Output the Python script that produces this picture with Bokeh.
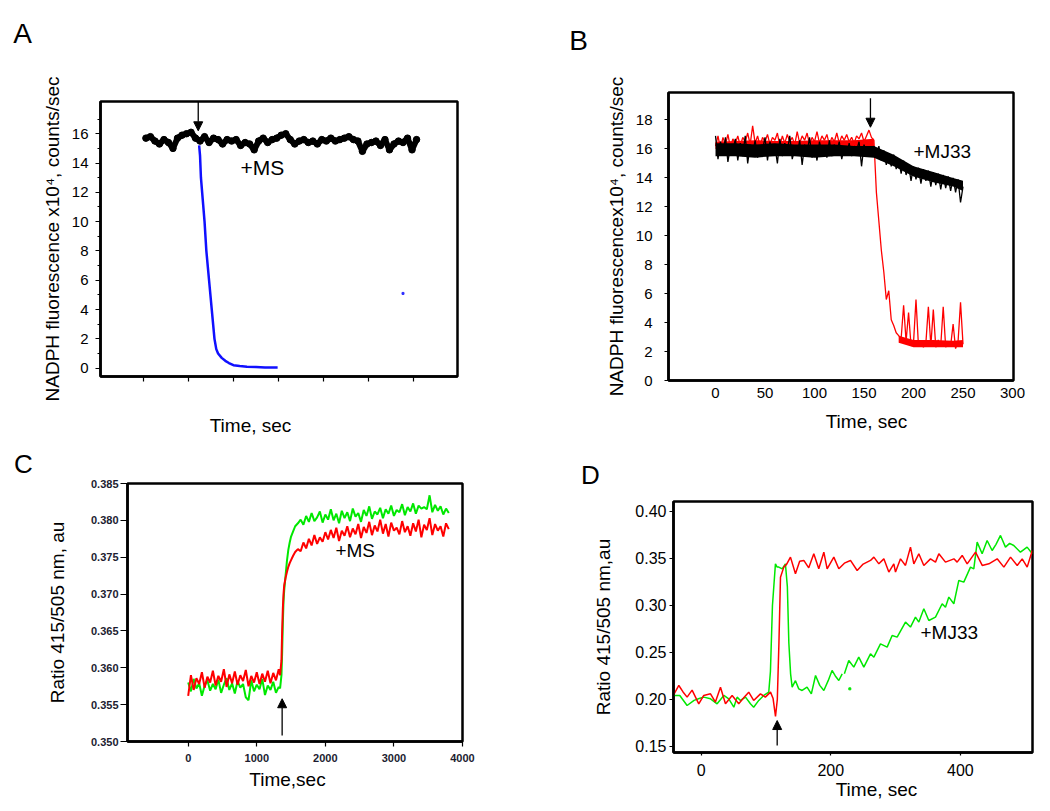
from bokeh.plotting import figure
from bokeh.models import Range1d, FixedTicker, Label, Arrow, NormalHead
from bokeh.embed import file_html
from bokeh.resources import INLINE

FONT = "Liberation Sans"
NaN = float("nan")

# ---------------- Panel A data ----------------
a_black_t = list(range(53, 354, 5))  # sampling grid (s)
a_black_v = [15.7, 15.8, 15.5, 15.3, 15.6, 15.4, 15.0, 15.7, 15.9, 16.0,
             16.1, 15.7, 15.5, 15.8, 15.4, 15.7, 15.6, 15.3, 15.6, 15.5,
             15.6, 15.2, 15.4, 15.3, 14.9, 15.5, 15.7, 15.4, 15.6, 15.7,
             15.9, 16.0, 15.6, 15.3, 15.5, 15.6, 15.4, 15.5, 15.3, 15.6,
             15.5, 15.7, 15.5, 15.6, 15.7, 15.8, 15.6, 15.5, 14.8, 15.3,
             15.4, 15.5, 15.2, 15.6, 14.9, 15.3, 15.5, 15.4, 15.7, 14.9, 15.6]
a_blue_t = [112, 113, 114, 116, 118, 120, 123, 126, 129, 131, 133, 137, 141, 145, 150, 157, 165, 175, 185, 199]
a_blue_v = [15.2, 14.5, 13.0, 11.5, 10.0, 8.0, 6.0, 4.0, 2.0, 1.3, 1.0, 0.7, 0.5, 0.35, 0.2, 0.15, 0.1, 0.08, 0.05, 0.05]
a_dot_t = [338]
a_dot_v = [5.1]
a_yticks = [0, 2, 4, 6, 8, 10, 12, 14, 16]
a_yminor = [1, 3, 5, 7, 9, 11, 13, 15, 17]
a_xticks = [50, 100, 150, 200, 250, 300, 350]
a_arrow = (111, 18.2, 16.2)

# ---------------- Panel B data ----------------
b_t = [i * 2.5 for i in range(101)]  # sampling grid 0..250 s
b_red = [16.2, 16.9, 16.0, 16.8, 16.3, 17.0, 16.1, 16.7, 16.4, 16.9,
         16.2, 16.8, 16.5, 17.1, 16.3, 17.6, 16.4, 16.9, 16.2, 16.8,
         16.5, 17.0, 16.3, 16.8, 16.6, 17.1, 16.2, 16.9, 16.4, 17.0,
         16.5, 16.8, 16.3, 17.2, 16.4, 16.9, 16.6, 17.1, 16.3, 16.8,
         16.5, 17.2, 16.4, 16.9, 16.6, 17.0, 16.3, 16.8, 16.5, 17.1,
         16.4, 16.9, 16.6, 17.0, 16.5, 16.8, 16.4, 16.9, 16.7, 17.1,
         16.5, 16.9, 17.3, 16.8, 16.6,
         13.0, 11.0, 9.0, 7.5, 5.6, 6.2, 4.2, 3.8, 3.3, 3.1,
         2.9, 5.2, 2.7, 4.7, 2.4, 2.6, 5.6, 2.4, 2.7, 2.3,
         2.6, 5.1, 2.4, 4.9, 2.3, 2.8, 2.4, 5.1, 2.3, 2.6,
         2.4, 3.9, 2.2, 2.7, 5.4, 2.5]
b_black = [16.9, 15.3, 16.5, 15.6, 16.8, 15.1, 16.2, 15.8, 16.7, 15.2,
           16.4, 15.5, 16.9, 15.0, 16.3, 15.7, 16.6, 15.4, 16.1, 15.9,
           16.8, 15.2, 16.5, 15.6, 16.2, 15.0, 16.7, 15.5, 16.4, 15.8,
           16.9, 15.3, 16.0, 15.6, 16.6, 14.9, 16.3, 15.7, 16.8, 15.4,
           16.2, 15.2, 16.5, 15.7, 16.0, 15.4, 16.6, 15.5, 16.3, 15.8,
           16.5, 15.3, 16.1, 15.6, 16.4, 15.5, 16.2, 15.9, 16.5, 14.8,
           16.3, 15.7, 16.1, 15.8, 16.2,
           15.4, 16.2, 15.2, 15.9, 14.9, 15.7, 14.8, 15.6, 14.6, 15.3,
           14.3, 15.2, 14.2, 14.9, 13.8, 14.8, 13.9, 14.7, 13.6, 14.6,
           13.8, 14.5, 13.4, 14.4, 13.5, 14.3, 13.2, 14.2, 13.3, 14.1,
           13.1, 14.0, 13.0, 13.9, 12.3, 13.4]
# dense core of the noisy bands
b_core_t = [0, 20, 40, 60, 80, 100, 120, 140, 160, 180, 200, 220, 240, 250]
b_black_core_lo = [15.5, 15.5, 15.4, 15.5, 15.5, 15.4, 15.5, 15.5, 15.4, 14.8, 14.1, 13.7, 13.4, 13.1]
b_black_core_hi = [16.4, 16.4, 16.3, 16.4, 16.3, 16.3, 16.3, 16.2, 16.2, 15.6, 14.8, 14.4, 14.0, 13.8]
b_red_core_t = [0, 20, 40, 60, 80, 100, 120, 140, 160]
b_red_core_lo = [16.0, 16.0, 16.1, 16.0, 16.1, 16.1, 16.1, 16.2, 16.2]
b_red_core_hi = [16.5, 16.55, 16.6, 16.55, 16.55, 16.6, 16.6, 16.6, 16.7]
b_red_tail_t = [185, 200, 220, 240, 250]
b_red_tail_lo = [2.6, 2.3, 2.3, 2.3, 2.3]
b_red_tail_hi = [3.1, 2.8, 2.8, 2.75, 2.8]
b_yticks = [0, 2, 4, 6, 8, 10, 12, 14, 16, 18]
b_xticks = [0, 50, 100, 150, 200, 250, 300]
b_arrow = (156.5, 19.5, 17.5)

# ---------------- Panel C data ----------------
c_t = (list(range(0, 1321, 40))
       + [1340, 1360, 1370, 1380, 1390, 1400, 1420, 1440, 1460, 1480, 1500, 1530, 1560, 1600]
       + list(range(1640, 3801, 40)))
c_green = [0.3580, 0.3568, 0.3585, 0.3572, 0.3579, 0.3562, 0.3576, 0.3583, 0.3569, 0.3578,
           0.3571, 0.3584, 0.3566, 0.3577, 0.3586, 0.3570, 0.3579, 0.3565, 0.3582, 0.3573,
           0.3578, 0.3560, 0.3556, 0.3583, 0.3568, 0.3577, 0.3571, 0.3585, 0.3563, 0.3576,
           0.3570, 0.3581, 0.3566, 0.3574,
           0.3572, 0.3590, 0.3620, 0.3660, 0.3690, 0.3705, 0.3725, 0.3745, 0.3760, 0.3770,
           0.3778, 0.3785, 0.3792, 0.3796,
           0.3801, 0.3794, 0.3806, 0.3798, 0.3810, 0.3799, 0.3804, 0.3812, 0.3797, 0.3808,
           0.3801, 0.3815, 0.3800, 0.3809, 0.3796, 0.3813, 0.3803, 0.3811, 0.3799, 0.3816,
           0.3805, 0.3810, 0.3798, 0.3814, 0.3806, 0.3819, 0.3802, 0.3812, 0.3808, 0.3817,
           0.3803, 0.3815, 0.3809, 0.3820, 0.3806, 0.3814, 0.3811, 0.3822, 0.3807, 0.3818,
           0.3812, 0.3823, 0.3809, 0.3820, 0.3816, 0.3818, 0.3815, 0.3834, 0.3811, 0.3821,
           0.3813, 0.3819, 0.3808, 0.3816, 0.3810]
c_red = [0.3562, 0.3590, 0.3570, 0.3586, 0.3578, 0.3594, 0.3573, 0.3588, 0.3580, 0.3596,
         0.3576, 0.3589, 0.3581, 0.3598, 0.3574, 0.3591, 0.3579, 0.3595, 0.3577, 0.3590,
         0.3582, 0.3597, 0.3575, 0.3589, 0.3580, 0.3594, 0.3578, 0.3592, 0.3581, 0.3596,
         0.3579, 0.3593, 0.3583, 0.3598,
         0.3590, 0.3610, 0.3650, 0.3680, 0.3700, 0.3712, 0.3722, 0.3730, 0.3737, 0.3742,
         0.3746, 0.3752, 0.3757, 0.3761,
         0.3758, 0.3770, 0.3762, 0.3775, 0.3766, 0.3780, 0.3768, 0.3777, 0.3771, 0.3784,
         0.3774, 0.3787, 0.3776, 0.3790, 0.3772, 0.3786, 0.3779, 0.3792, 0.3777, 0.3789,
         0.3781, 0.3795, 0.3776, 0.3791, 0.3783, 0.3798, 0.3780, 0.3793, 0.3785, 0.3801,
         0.3782, 0.3795, 0.3778, 0.3797, 0.3786, 0.3790, 0.3781, 0.3799, 0.3784, 0.3792,
         0.3779, 0.3796, 0.3785, 0.3801, 0.3777, 0.3794, 0.3787, 0.3803, 0.3780, 0.3795,
         0.3786, 0.3792, 0.3778, 0.3796, 0.3788]
c_yticks = [0.350, 0.355, 0.360, 0.365, 0.370, 0.375, 0.380, 0.385]
c_ylabels = ["0.350", "0.355", "0.360", "0.365", "0.370", "0.375", "0.380", "0.385"]
c_xticks = [0, 1000, 2000, 3000, 4000]
c_xlabels = ["0", "1000", "2000", "3000", "4000"]
c_arrow = (1370, 0.3508, 0.3558)

# ---------------- Panel D data ----------------
d_red_t = [-43, -34.5, -28, -21.7, -14, -3.7, 4, 14.4, 22, 29.8, 37.5, 47.8, 58, 66, 73.4, 81,
           91.5, 99, 107, 111, 114.7, 117.5, 120, 122.4, 127.5, 132, 137.8, 145.5, 152, 158.4,
           166, 173.8, 181.5, 189.3, 194.4, 204.7, 212.4, 221, 230.4, 240.7, 250, 261.3, 266.5,
           274.2, 281.9, 289.6, 297.3, 299.9, 307.6, 315.3, 323, 328.2, 335.9, 343.6, 353.9,
           361.6, 366.8, 377, 390, 395, 402.8, 410.5, 423.4, 433.7, 444, 456.8, 467.1, 477.4,
           487.7, 495.4, 503.1, 511]
d_red_v = [0.2043, 0.2149, 0.2080, 0.2025, 0.2100, 0.1954, 0.2043, 0.2060, 0.1972, 0.2131,
           0.1954, 0.2043, 0.1954, 0.2020, 0.2078, 0.1990, 0.2060, 0.2025, 0.2078, 0.2010,
           0.1819, 0.2000, 0.2600, 0.3300, 0.3408, 0.3440, 0.3514, 0.3337, 0.3470, 0.3479,
           0.3400, 0.3550, 0.3390, 0.3567, 0.3390, 0.3514, 0.3390, 0.3450, 0.3479, 0.3372,
           0.3440, 0.3479, 0.3514, 0.3443, 0.3496, 0.3355, 0.3443, 0.3355, 0.3496, 0.3426,
           0.3621, 0.3443, 0.3550, 0.3426, 0.3496, 0.3461, 0.3550, 0.3461, 0.3496, 0.3461,
           0.3532, 0.3443, 0.3567, 0.3426, 0.3443, 0.3496, 0.3408, 0.3514, 0.3426, 0.3496,
           0.3408, 0.3585]
d_green_t = [-43, -33, -21.7, -11, -3, 4, 14.4, 24.6, 35, 42.6, 50.4, 55.5, 60.6, 68.4, 76, 81,
             88.9, 96.6, 104.3, 106.9, 110, 114.6, 117, 119.8, 125, 130, 133, 135.3, 138, 140.4,
             145.5, 150.6, 155.8, 163.4, 170, 176.5, 183, 189.3, 196, 202, 207, 212.4, 217.6,
             219, 221, 227.8, 235.5, 243.2, 251, 261.3, 266.5, 276.7, 287, 294.7, 302.4, 315.3,
             323, 330.7, 335.9, 343.6, 351.3, 361.6, 371.9, 377, 382.2, 389.9, 397.6, 405.3,
             415.6, 420.7, 425.9, 433.6, 441.3, 449, 455, 461.9, 469.6, 476, 482.4, 492.7, 503, 511]
d_green_v = [0.2043, 0.2043, 0.1936, 0.1990, 0.2010, 0.2025, 0.2007, 0.1954, 0.2043, 0.2007,
             0.1918, 0.2025, 0.1990, 0.2025, 0.1954, 0.1918, 0.1990, 0.2043, 0.2078, 0.2300,
             0.3000, 0.3443, 0.3410, 0.3408, 0.3390, 0.3443, 0.3200, 0.2600, 0.2273, 0.2131,
             0.2200, 0.2113, 0.2096, 0.2131, 0.2060, 0.2255, 0.2150, 0.2096, 0.2200, 0.2309,
             0.2250, 0.2202, 0.2273, NaN, 0.2273, 0.2415, 0.2344, 0.2450, 0.2344, 0.2486,
             0.2450, 0.2592, 0.2557, 0.2681, 0.2663, 0.2823, 0.2770, 0.2876, 0.2823, 0.2965,
             0.2840, 0.2876, 0.3018, 0.2982, 0.3089, 0.3018, 0.3266, 0.3248, 0.3408, 0.3390,
             0.3674, 0.3550, 0.3691, 0.3585, 0.3650, 0.3745, 0.3621, 0.3660, 0.3638, 0.3567,
             0.3621, 0.3550]
d_dot_t = [229.4]
d_dot_v = [0.2113]
d_yticks = [0.15, 0.20, 0.25, 0.30, 0.35, 0.40]
d_ylabels = ["0.15", "0.20", "0.25", "0.30", "0.35", "0.40"]
d_xticks = [0, 200, 400]
d_xlabels = ["0", "200", "400"]
d_arrow = (117.3, 0.151, 0.1776)

# ---------------- page texts outside the plot frames ----------------
page_texts = ["A", "B", "C", "D", "Time, sec", "Time, sec", "Time,sec", "Time, sec"]
page_text_x = [22, 578, 23, 590, 250, 866, 287, 876]
page_text_y = [33, 40, 463, 474, 425, 421, 779, 789]
page_text_size = ["28px", "28px", "26px", "26px", "19px", "19px", "19px", "19px"]

RED = "#ff0000"
GREEN = "#00e800"

# page position of each figure (top-left, px)
panel_pos = {"panelA": [0, 0], "panelB": [520, 0], "panelC": [0, 440],
             "panelD": [520, 440], "overlay": [0, 0]}


def panel(name, xr, yr, fw, fh, bl, br, bt, bb):
    p = figure(name=name, title=None, width=bl + fw + br, height=bt + fh + bb,
               frame_width=fw, frame_height=fh,
               x_range=Range1d(*xr), y_range=Range1d(*yr),
               min_border_left=bl, min_border_right=br, min_border_top=bt, min_border_bottom=bb,
               output_backend="svg", toolbar_location=None, tools="")
    p.xgrid.visible = False
    p.ygrid.visible = False
    p.outline_line_color = "black"
    p.outline_line_width = 2.5
    p.background_fill_color = "white"
    p.border_fill_color = "white"
    for ax in (p.xaxis[0], p.yaxis[0]):
        ax.axis_line_color = "black"
        ax.axis_line_width = 2.5
        ax.major_tick_line_color = "black"
        ax.major_tick_line_width = 1.2
        ax.major_tick_in = 0
        ax.minor_tick_line_color = "black"
        ax.minor_tick_in = 0
        ax.minor_tick_out = 0
        ax.major_label_text_font = FONT
        ax.major_label_text_color = "black"
        ax.axis_label_text_font = FONT
        ax.axis_label_text_font_style = "normal"
        ax.axis_label_text_color = "black"
    return p


def txt(p, x, y, s, size, align="center"):
    p.add_layout(Label(x=x, y=y, text=s, text_font=FONT, text_font_size=size,
                       text_align=align, text_baseline="middle", text_color="black"))


def arrow(p, spec):
    x, y0, y1 = spec
    p.add_layout(Arrow(end=NormalHead(size=9, fill_color="black", line_color="black", line_width=1),
                       x_start=x, y_start=y0, x_end=x, y_end=y1,
                       line_color="black", line_width=1.3))


# ---------------- Panel A ----------------
pA = panel("panelA", (2.66, 398.4), (-0.57, 18.2), 357, 275, 100, 60, 101, 59)
pA.line(a_black_t, a_black_v, line_color="black", line_width=6, line_join="round", line_cap="round")
pA.scatter(a_black_t, a_black_v, size=6.5, color="black")
pA.line(a_blue_t, a_blue_v, line_color="#1010ff", line_width=2.5)
pA.scatter(a_dot_t, a_dot_v, size=2, color="#3030ff", marker="square")
pA.yaxis.ticker = FixedTicker(ticks=a_yticks, minor_ticks=a_yminor)
pA.yaxis.major_tick_out = 5
pA.yaxis.minor_tick_out = 3
pA.yaxis.major_label_standoff = 7
pA.yaxis.major_label_text_font_size = "15px"
pA.yaxis.axis_label = "NADPH fluorescence x10⁴, counts/sec"
pA.yaxis.axis_label_text_font_size = "19px"
pA.yaxis.axis_label_standoff = 6
pA.xaxis.ticker = FixedTicker(ticks=a_xticks)
pA.xaxis.major_tick_out = 5
pA.xaxis.major_label_overrides = {t: "" for t in a_xticks}
arrow(pA, a_arrow)
txt(pA, 157.9, 13.72, "+MS", "21px", "left")

# ---------------- Panel B ----------------
pB = panel("panelB", (-47.5, 301), (0, 19.9), 345, 288, 148, 20, 92, 60)
pB.varea(b_red_core_t, b_red_core_lo, b_red_core_hi, fill_color=RED)
pB.varea(b_red_tail_t, b_red_tail_lo, b_red_tail_hi, fill_color=RED)
pB.line(b_t, b_red, line_color=RED, line_width=1.3)
pB.varea(b_core_t, b_black_core_lo, b_black_core_hi, fill_color="black")
pB.line(b_t, b_black, line_color="black", line_width=1.3)
pB.yaxis.ticker = FixedTicker(ticks=b_yticks)
pB.yaxis.major_tick_out = 4
pB.yaxis.major_label_standoff = 12
pB.yaxis.major_label_text_font_size = "15px"
pB.yaxis.axis_label = "NADPH fluorescencex10⁴, counts/sec"
pB.yaxis.axis_label_text_font_size = "19px"
pB.yaxis.axis_label_standoff = 6
pB.xaxis.ticker = FixedTicker(ticks=b_xticks)
pB.xaxis.major_tick_out = 0
pB.xaxis.major_label_standoff = 7
pB.xaxis.major_label_text_font_size = "15px"
arrow(pB, b_arrow)
txt(pB, 200, 15.85, "+MJ33", "19px", "left")

# ---------------- Panel C ----------------
pC = panel("panelC", (-885, 4000), (0.350, 0.385), 335, 258, 127, 50, 43, 50)
pC.line(c_t, c_green, line_color=GREEN, line_width=2)
pC.line(c_t, c_red, line_color=RED, line_width=2)
pC.yaxis.ticker = FixedTicker(ticks=c_yticks)
pC.yaxis.major_label_overrides = dict(zip(c_yticks, c_ylabels))
pC.yaxis.major_tick_out = 7
pC.yaxis.major_label_standoff = 2
pC.xaxis.ticker = FixedTicker(ticks=c_xticks)
pC.xaxis.major_label_overrides = dict(zip(c_xticks, c_xlabels))
pC.xaxis.major_tick_out = 5
pC.xaxis.major_label_standoff = 7
for ax in (pC.xaxis[0], pC.yaxis[0]):
    ax.major_label_text_font_size = "11px"
    ax.major_label_text_font_style = "bold"
    ax.major_label_text_color = "#1c1c30"
pC.yaxis.axis_label = "Ratio 415/505 nm, au"
pC.yaxis.axis_label_text_font_size = "19px"
pC.yaxis.axis_label_standoff = 20
arrow(pC, c_arrow)
txt(pC, 2147, 0.37591, "+MS", "19px", "left")

# ---------------- Panel D ----------------
pD = panel("panelD", (-42.7, 511.3), (0.1436, 0.4106), 359, 251, 153, 8, 61, 45)
pD.line(d_green_t, d_green_v, line_color=GREEN, line_width=1.5)
pD.scatter(d_dot_t, d_dot_v, size=2, color=GREEN, marker="square")
pD.line(d_red_t, d_red_v, line_color=RED, line_width=1.5)
pD.yaxis.ticker = FixedTicker(ticks=d_yticks)
pD.yaxis.major_label_overrides = dict(zip(d_yticks, d_ylabels))
pD.yaxis.major_tick_out = 4
pD.yaxis.major_label_standoff = 3
pD.yaxis.major_label_text_font_size = "16px"
pD.yaxis.axis_label = "Ratio 415/505 nm,au"
pD.yaxis.axis_label_text_font_size = "19px"
pD.yaxis.axis_label_standoff = 18
pD.xaxis.ticker = FixedTicker(ticks=d_xticks)
pD.xaxis.major_label_overrides = dict(zip(d_xticks, d_xlabels))
pD.xaxis.major_tick_out = 3
pD.xaxis.major_label_standoff = 8
pD.xaxis.major_label_text_font_size = "16px"
arrow(pD, d_arrow)
txt(pD, 338.5, 0.2716, "+MJ33", "19px", "left")

# ---------------- transparent overlay for texts outside frames ----------------
pT = figure(name="overlay", title=None, width=1040, height=800, frame_width=1040, frame_height=800,
            x_range=Range1d(0, 1040), y_range=Range1d(800, 0), min_border=0,
            x_axis_location=None, y_axis_location=None,
            output_backend="svg", toolbar_location=None, tools="")
pT.background_fill_color = None
pT.border_fill_color = None
pT.outline_line_color = None
pT.grid.visible = False
for s, x, y, size in zip(page_texts, page_text_x, page_text_y, page_text_size):
    txt(pT, x, y, s, size)

PAGE = """
{% block contents %}
{% from macros import embed %}
{% for doc in docs %}
{% for root in doc.roots %}
<div style="position: absolute; left: {{ panel_pos[root.name][0] }}px; top: {{ panel_pos[root.name][1] }}px;">
{{ embed(root) }}
</div>
{% endfor %}
{% endfor %}
{% endblock %}
"""

roots = [pA, pB, pC, pD, pT]
open("out.html", "w").write(file_html(roots, INLINE, title="NADPH and ratio traces",
                                      template=PAGE, template_variables={"panel_pos": panel_pos}))
